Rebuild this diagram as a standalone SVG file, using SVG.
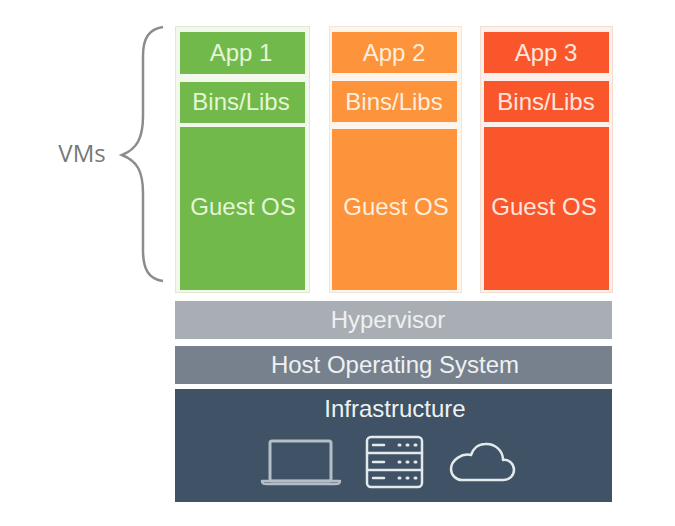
<svg xmlns="http://www.w3.org/2000/svg" width="675" height="526" viewBox="0 0 675 526">
<style>
.t{font-family:"Liberation Sans",Arial,sans-serif;font-size:24px;text-anchor:middle}
.ic{fill:none;stroke:#e4e9ec;stroke-width:2.500;stroke-linejoin:round;stroke-linecap:round}
</style>
<rect width="675" height="526" fill="#fff"/>
<g id="connectors">
<path d="M163 27C149 29 143 38 143 56V116C143 138 137 149 122 155C137 161 143 171 143 193V250C143 270 149 279 163 281" fill="none" stroke="#8a8d8f" stroke-width="2.500"/>
</g>
<g id="vms-label"><text x="82" y="162" font-family="'Open Sans','Liberation Sans',sans-serif" font-size="24" fill="#75797b" text-anchor="middle">VMs</text></g>
<g id="vm1">
<rect x="175.500" y="26.500" width="134" height="266" fill="#f2f9ec" stroke="#dcebd0"/>
<rect x="180" y="32" width="125" height="42" fill="#70b94a"/>
<rect x="180" y="82" width="125" height="41" fill="#70b94a"/>
<rect x="180" y="127" width="125" height="163" fill="#70b94a"/>
<text x="241" y="61" class="t" fill="#e6f5d8">App 1</text>
<text x="241" y="110" class="t" fill="#e6f5d8">Bins/Libs</text>
<text x="243" y="215" class="t" fill="#e6f5d8">Guest OS</text>
</g>
<g id="vm2">
<rect x="329.500" y="26.500" width="132" height="266" fill="#fdf5ec" stroke="#f3e6d8"/>
<rect x="332" y="32" width="125" height="41" fill="#fd933b"/>
<rect x="332" y="81" width="125" height="41" fill="#fd933b"/>
<rect x="332" y="129" width="125" height="161" fill="#fd933b"/>
<text x="394" y="61" class="t" fill="#fdeedd">App 2</text>
<text x="394" y="110" class="t" fill="#fdeedd">Bins/Libs</text>
<text x="396" y="215" class="t" fill="#fdeedd">Guest OS</text>
</g>
<g id="vm3">
<rect x="480.500" y="26.500" width="132" height="266" fill="#fdf0ea" stroke="#f4dcd0"/>
<rect x="484" y="32" width="125" height="41" fill="#fa562c"/>
<rect x="484" y="81" width="125" height="41" fill="#fa562c"/>
<rect x="484" y="127" width="125" height="163" fill="#fa562c"/>
<text x="546" y="61" class="t" fill="#fde6dc">App 3</text>
<text x="546" y="110" class="t" fill="#fde6dc">Bins/Libs</text>
<text x="544" y="215" class="t" fill="#fde6dc">Guest OS</text>
</g>
<g id="hypervisor">
<rect x="175" y="301" width="437" height="38" fill="#a9aeb4"/>
<text x="388" y="328" class="t" fill="#eef0f2">Hypervisor</text>
</g>
<g id="host-os">
<rect x="175" y="346" width="437" height="38" fill="#76818d"/>
<text x="395" y="373" class="t" fill="#eef1f3">Host Operating System</text>
</g>
<g id="infrastructure">
<rect x="175" y="389" width="437" height="113" fill="#3f5266"/>
<text x="395" y="417" class="t" fill="#eef1f3">Infrastructure</text>
<g id="laptop" class="ic" style="stroke:#b4bec6">
<rect x="270" y="441" width="61" height="40" rx="2" stroke-width="3"/>
<path d="M262 481H340C340 484 338 484 335 484H267C264 484 262 484 262 481Z"/>
</g>
<g id="server" class="ic">
<rect x="367" y="437" width="55" height="50" rx="4"/>
<path d="M367 453H422M367 470H422M373 445H384M373 462H384M373 478H384"/>
<path d="M399 445h1M407 445h1M415 445h1M399 462h1M407 462h1M415 462h1M399 478h1M407 478h1M415 478h1" stroke-width="3"/>
</g>
<g id="cloud" class="ic">
<path d="M462 480H503C510 480 514 475 514 470C514 464 509 459 503 460C503 450 494 443 485 444C478 444 473 449 471 455C462 453 451 460 451 469C451 475 456 480 462 480Z"/>
</g>
</g>
</svg>
